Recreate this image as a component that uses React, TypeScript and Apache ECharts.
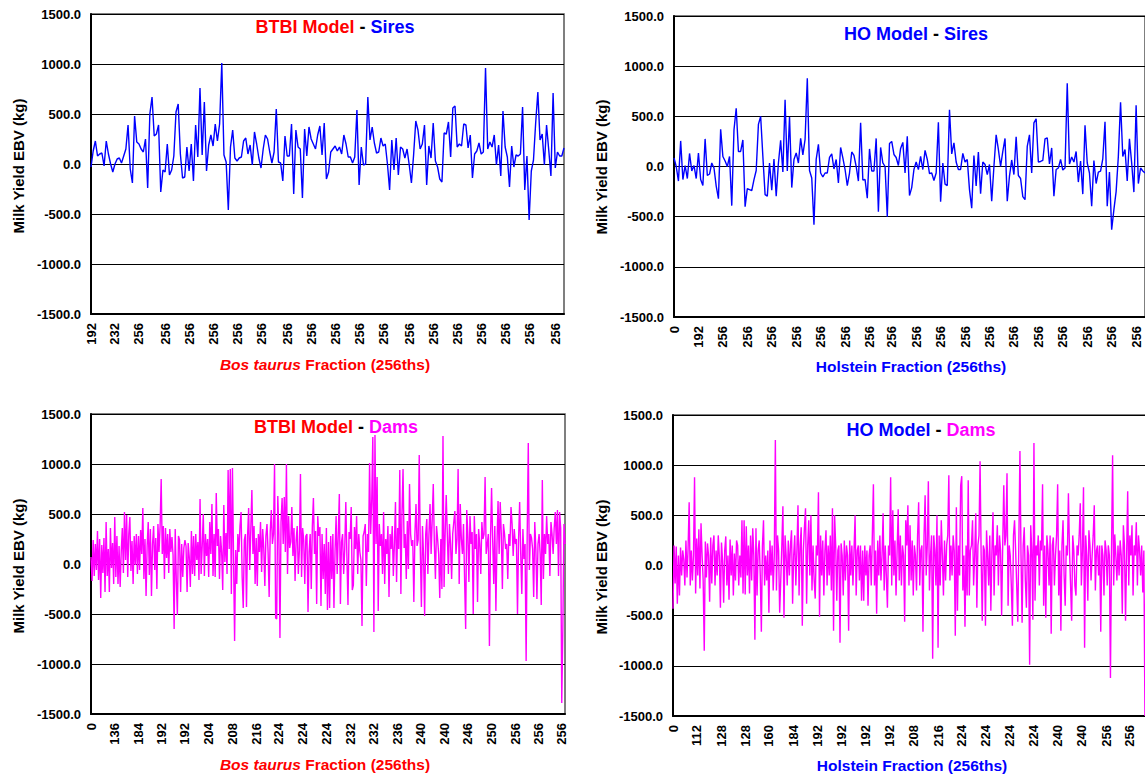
import React, { useEffect, useRef } from "react";
import * as echarts from "echarts";

// ---------------- DATA ----------------
// BTBI model - sires (Milk yield EBV, kg), in order of Bos taurus fraction
const BTBI_SIRES = [
  -30, 130, 230, 80, 100, 110, -20, 230, 100, 0,
  -80, 0, 50, 60, 10, 80, 150, 390, -50, -190,
  480, 220, 200, 150, 120, 250, -240, 500, 670, 280,
  300, 390, -280, -60, -80, 200, -110, -60, 80, 520,
  600, 100, -140, -130, 170, -70, 200, -170, 390, 70,
  760, 90, 620, -70, 190, 290, 180, 400, 230, 400,
  1010, 90, 20, -460, 170, 340, 60, 30, 60, 70,
  230, 260, 100, 190, -10, 320, 200, 60, -40, 150,
  290, 250, 120, 10, 120, 550, 20, 10, -170, 280,
  80, 80, 400, -300, 340, 170, 150, -340, 350, 80,
  370, 250, 200, 150, 290, 380, 90, 410, -150, -80,
  120, 150, 180, 130, 170, 100, 290, 200, 70, 70,
  10, 70, 540, -210, 170, -10, 0, 670, 240, 370,
  210, 110, 120, 260, 180, 200, 0, -260, 240, -60,
  260, -110, 170, 150, 60, 150, -10, -190, 90, 430,
  340, 150, 200, 390, -210, 180, 60, 410, 30, -30,
  -150, -180, 310, 300, 420, 70, 560, 580, 170, 200,
  180, 400, 390, 160, 290, -140, 100, 130, 210, 100,
  120, 960, 150, 220, 170, 290, -10, 190, -120, 530,
  170, 70, -230, 180, -30, 90, 80, 100, 570, -260,
  80, -560, -70, 40, 410, 720, 240, 300, -10, 390,
  140, -120, 710, -40, 120, 80, 80, 160,
];

// HO model - sires
const HO_SIRES = [
  85, 0, -145, 255, -130, 10, -120, 130, -45, 10,
  -120, 135, -130, -190, 275, -90, -75, 35, -15, -195,
  -320, 370, 100, 55, 0, 100, -390, 365, 580, 150,
  150, 265, -400, -220, -230, -240, -130, -40, 420, 500,
  100, -280, -295, 35, -235, 75, -295, 35, 260, -55,
  665, -45, 495, -210, 70, 135, 35, 280, 115, 270,
  880, -40, -115, -580, 70, 220, -65, -105, -65, -65,
  90, 125, -25, 70, -165, 190, 85, -30, -190, -65,
  145, 110, 0, -145, 435, -135, -130, -315, 175, -45,
  -45, 280, -450, 190, 35, 0, -500, 230, 250, 120,
  90, 10, 180, 240, -65, 300, -290, -210, -30, 45,
  -30, 100, -30, 160, 70, -70, -65, -140, -65, 440,
  -350, 35, -175, -190, 565, 125, 235, 45, -30, -30,
  130, 45, 70, -230, -415, 110, -195, 145, -270, 45,
  20, -80, 20, -345, 0, 315, 170, 0, 150, 280,
  -345, -95, 65, -80, 295, -90, -120, -300, -330, 200,
  315, -65, 435, 475, 45, 50, 60, 275, 285, 25,
  185, -295, -30, -15, 70, -35, -15, 830, 25, 95,
  45, 150, -155, 55, -275, 410, 35, -65, -395, 60,
  -170, -55, -45, 75, 445, -395, -55, -630, -430, -250,
  100, 640, 100, 170, -145, 275, 35, -255, 610, -170,
  -15, -45, -65,
];

// BTBI model - dams
const BTBI_DAMS = [
  70, -170, 240, -120, 200, -60, 330, -160, 250, -340, 190, -90, 260, -280, 420, -120, 150, -280, 360, -40, 210, -200,
  470, -130, 280, -200, 180, -230, 120, 360, -90, 520, 40, 490, -130, 300, 470, -70, 230, -200, 280, -10, 300, -100,
  280, -60, 340, 100, 560, -150, 250, -320, 180, 420, -110, 350, -320, 200, 380, -60, 260, -250, 400, 120, 380, 850,
  100, 380, -150, 360, 60, 300, -90, 350, 120, 270, 90, -650, 350, -160, -510, 280, 240, -280, 200, -130, 160, 240,
  180, -280, 210, 70, -230, 330, -100, 280, -120, 300, 40, 220, -160, 650, -100, 180, 500, -120, 300, 80, 250, -130,
  420, 100, 600, -120, 300, -130, 710, 180, 350, -150, 280, 120, -260, 590, 20, 310, -100, 940, 150, 950, -300, 960,
  80, -770, 140, -200, 300, 120, 380, 520, -130, -440, 240, 300, -430, 280, 560, -60, 350, 740, 100, 380, -200, 260,
  -220, 300, 120, 420, -80, 350, 160, -220, 280, 400, 120, -330, 320, 540, 200, 300, 1000, -540, -550, 680, 300, -740,
  420, 660, 200, 670, 120, 1000, -100, 480, 160, 220, 570, 80, 360, -170, 240, 380, -100, 140, 900, -130, 360, 240,
  -200, 280, 300, -480, 120, 300, -250, 380, 660, 100, 330, -400, 480, 280, 370, -420, 300, -150, 200, -300, 360, -460,
  220, -440, 280, -150, 300, -440, 120, 480, -100, 300, 700, -400, 220, 300, -100, 150, 620, 80, -410, 320, 250, 570,
  -260, -210, 370, 150, 480, -100, 300, 120, 40, -620, 280, 320, 400, -220, 300, 120, 1010, 300, 640, 1270, -680, 1290,
  200, 870, -470, 400, 180, 300, -100, 520, -200, 250, 100, 380, -330, 300, 150, 380, -120, 200, 620, -180, 360, 150,
  940, -300, 500, 950, 160, 300, -150, 430, -50, 800, 300, 180, 240, -380, 300, 600, 180, 240, 1090, 130, -430, 380,
  80, -520, 300, 450, -100, 300, 600, 100, 440, 800, 200, -150, 380, 250, 100, -340, 250, -250, 1280, -230, 300, 690,
  300, -100, 400, 200, -150, 300, 420, 530, 100, 250, 950, -200, 600, 250, 100, 400, -150, -650, 540, 300, -180, 480,
  200, 320, -500, 480, 150, 300, -380, 350, 200, -100, 420, 250, 300, 870, 100, 200, 300, -820, 250, 760, 250, -200,
  380, -470, 200, 630, 100, 620, 300, -250, 400, 300, 150, 200, -150, 300, 180, 570, 400, 80, 350, 200, 250, -500,
  250, 620, 100, -300, 350, 50, 200, -970, 300, 1210, -60, 300, 260, 150, -330, 420, 150, -350, 200, 300, 100, -410,
  840, -150, 300, 100, 480, 200, 300, -120, 420, 300, 100, 360, 520, 200, 540, -120, 520, 360, -1390, -650, 400, 200,
];

// HO model - dams
const HO_DAMS = [
  -430, 200, -180, 190, -380, 100, -300, 180, -100, 150, 60, -200, 250, -120, 170, 630, -200, 150, -150, 100, 880, -280,
  270, -100, 360, -230, 420, 100, -150, -850, 240, -120, 220, 100, -360, 280, -180, 200, 300, -200, 150, -100, 300, 90,
  -420, 230, 50, -370, 150, 290, -200, 100, -340, 260, -100, 200, -300, 120, -150, 250, 200, -200, 100, -120, 450, -280,
  450, -290, 390, -100, 200, -280, 300, -150, 370, 100, -740, 370, -300, 150, 250, -100, -660, 200, 450, -200, 100, -150,
  150, -470, 250, -100, 200, -250, 100, 1250, -250, 300, 150, -470, -150, 200, 590, -520, 300, 100, -200, 250, -100, 200,
  350, -380, 100, 300, -200, 150, 600, -300, 200, 380, -600, 150, 380, 570, -380, 200, 450, -100, 500, -250, 200, -150,
  -330, 200, 100, 730, -510, 300, -100, 250, -300, 150, 350, -200, 200, -100, 300, -250, 570, -650, 500, 200, -350, 150,
  200, -770, 220, 100, -300, 250, -150, 200, 100, -650, 250, -100, 200, -200, 150, 500, -300, 150, 200, -150, 200, -350,
  150, -350, 200, -100, 150, -400, 100, 200, -200, 300, 810, -200, 150, -480, 250, -100, 300, -150, 100, 520, -250, 200,
  -100, -420, 200, 100, 880, -200, 550, -100, 250, -300, 150, 560, -150, 300, -200, 200, 100, -560, 450, 200, 600, -200,
  400, -150, 250, -300, 200, 100, -250, 300, 630, -200, 150, 200, -660, 300, 700, -100, 200, 840, -250, 100, 300, -930,
  300, 150, -200, 500, -820, 300, -200, 450, 100, -300, 250, -150, 200, 300, 900, -150, 200, -100, 300, 150, -700, 580,
  -450, 200, -100, 800, 890, -250, 100, -610, 200, -300, 850, -300, 150, 200, 450, -200, 100, 520, -420, 200, 300, 1040,
  100, -550, 200, 150, -600, 350, 100, -200, 300, -450, 150, 530, -300, 200, 100, 400, -200, 300, 150, -500, 200, 800,
  200, 300, 920, -400, 200, 100, -200, -600, 300, 450, 150, -200, -560, 250, 1140, 100, -570, 200, 380, -150, -420, 200,
  100, -990, 400, 150, -540, 1220, -350, 200, 100, 300, -200, 250, 150, 810, -400, 200, -520, 300, 150, -200, 300, -680,
  200, 280, -200, 100, 300, 810, -300, 150, -650, 200, 450, -100, -400, 200, 100, 720, 150, -200, -550, 300, 150, -200,
  -300, 200, 100, 300, 620, -200, 150, 780, -820, 300, 100, -350, 350, 200, -150, 100, 300, 600, -250, 150, 200, -100,
  200, -660, 200, 100, -300, 250, 150, -200, 200, 100, -1120, 150, 1100, -200, 310, 100, -150, 200, -100, 250, 100, -480,
  400, 200, -550, 100, 740, -200, 300, 100, 400, -300, 200, 100, 430, -200, 300, 150, -100, 200, -270, 150, -1500, 250,
];

// Tick labels (fraction, 256ths) shown under each x axis
const BTBI_SIRE_TICKS = ["192", "232", "256", "256", "256", "256", "256", "256", "256", "256", "256", "256", "256", "256", "256", "256", "256", "256", "256", "256"];
const HO_SIRE_TICKS = ["0", "192", "256", "256", "256", "256", "256", "256", "256", "256", "256", "256", "256", "256", "256", "256", "256", "256", "256", "256"];
const BTBI_DAM_TICKS = ["0", "136", "184", "192", "192", "204", "208", "216", "224", "224", "224", "232", "232", "236", "240", "240", "246", "250", "256", "256", "256"];
const HO_DAM_TICKS = ["0", "112", "128", "128", "160", "184", "192", "192", "192", "192", "208", "216", "224", "224", "224", "224", "240", "240", "256", "256"];

const Y_MIN = -1500;
const Y_MAX = 1500;
const Y_STEP = 500;

// ---------------- LAYOUT ----------------
const FONT = '"Liberation Sans", Arial, Helvetica, sans-serif';
const RED = "#FF0000";
const BLUE = "#0000FF";
const MAGENTA = "#FF00FF";

type Panel = {
  data: number[];
  ticks: string[];
  color: string;
  lw: number;
  grid: { left: number; top: number; width: number; height: number };
  tickPx: number;
};

const PANELS: Panel[] = [
  { data: BTBI_SIRES, ticks: BTBI_SIRE_TICKS, color: BLUE, lw: 1.4, grid: { left: 91, top: 14, width: 473, height: 300 }, tickPx: 24.4 },
  { data: HO_SIRES, ticks: HO_SIRE_TICKS, color: BLUE, lw: 1.4, grid: { left: 674, top: 16, width: 471, height: 301 }, tickPx: 24.3 },
  { data: BTBI_DAMS, ticks: BTBI_DAM_TICKS, color: MAGENTA, lw: 1.4, grid: { left: 91, top: 414, width: 474, height: 300 }, tickPx: 23.55 },
  { data: HO_DAMS, ticks: HO_DAM_TICKS, color: MAGENTA, lw: 1.4, grid: { left: 673, top: 415, width: 473, height: 301 }, tickPx: 24.05 },
];

function buildAxis(p: Panel) {
  const n = p.data.length;
  const step = (p.tickPx * (n - 1)) / p.grid.width;
  const idx = p.ticks.map((_, j) => Math.round(j * step)).filter((i) => i < n);
  const cats: string[] = new Array(n);
  let j = 0;
  for (let i = 0; i < n; i++) {
    while (j + 1 < idx.length && idx[j + 1] <= i) j++;
    cats[i] = p.ticks[j];
  }
  const set = new Set(idx);
  return { cats, set };
}

const txt = (
  x: number,
  y: number,
  text: string,
  rich: Record<string, any>,
  fontSize: number,
  rotation = 0
) => ({
  type: "text",
  x,
  y,
  rotation,
  silent: true,
  style: {
    text,
    align: "center",
    verticalAlign: "middle",
    fontFamily: FONT,
    fontSize,
    fontWeight: "bold",
    fill: "#000",
    rich,
  },
});

const part = (fill: string, size: number, italic = false) => ({
  fill,
  fontFamily: FONT,
  fontSize: size,
  fontWeight: "bold",
  fontStyle: italic ? "italic" : "normal",
});

export default function App() {
  const ref = useRef<HTMLDivElement>(null);

  useEffect(() => {
    if (!ref.current) return;
    const chart = echarts.init(ref.current, undefined, { renderer: "svg" });

    const grids: any[] = [];
    const xAxes: any[] = [];
    const yAxes: any[] = [];
    const series: any[] = [];

    PANELS.forEach((p, k) => {
      const { cats, set } = buildAxis(p);
      grids.push({
        ...p.grid,
        show: true,
        borderColor: "#555",
        borderWidth: 1.5,
        backgroundColor: "#fff",
        containLabel: false,
        outerBoundsMode: "none",
      });
      xAxes.push({
        type: "category",
        gridIndex: k,
        data: cats.map((_, i) => String(i)),
        boundaryGap: false,
        axisLine: { show: true, onZero: false, lineStyle: { color: "#000", width: 2 } },
        axisTick: { show: false },
        splitLine: { show: false },
        axisLabel: {
          interval: (i: number) => set.has(i),
          formatter: (_v: string, i: number) => cats[i],
          rotate: 90,
          margin: 9,
          color: "#000",
          fontFamily: FONT,
          fontWeight: "bold",
          fontSize: 13,
          hideOverlap: false,
        },
      });
      yAxes.push({
        type: "value",
        gridIndex: k,
        min: Y_MIN,
        max: Y_MAX,
        interval: Y_STEP,
        axisLine: { show: true, lineStyle: { color: "#000", width: 2 } },
        axisTick: { show: false },
        splitLine: { show: true, lineStyle: { color: "#000", width: 1 } },
        axisLabel: {
          formatter: (v: number) => v.toFixed(1),
          margin: 10,
          color: "#000",
          fontFamily: FONT,
          fontWeight: "bold",
          fontSize: 13,
        },
      });
      series.push({
        type: "line",
        xAxisIndex: k,
        yAxisIndex: k,
        data: p.data,
        symbol: "none",
        showSymbol: false,
        lineStyle: { color: p.color, width: p.lw },
        itemStyle: { color: p.color },
        silent: true,
      });
    });

    const TS = 18;
    const AS = 15.5;
    const YS = 15;
    const graphic: any[] = [
      // panel titles
      txt(335, 27, "{r|BTBI Model} {k|-} {b|Sires}", { r: part(RED, TS), k: part("#000", TS), b: part(BLUE, TS) }, TS),
      txt(916, 34, "{b|HO Model} {k|-} {b|Sires}", { k: part("#000", TS), b: part(BLUE, TS) }, TS),
      txt(336, 427, "{r|BTBI Model} {k|-} {m|Dams}", { r: part(RED, TS), k: part("#000", TS), m: part(MAGENTA, TS) }, TS),
      txt(921, 430, "{b|HO Model} {k|-} {m|Dams}", { b: part(BLUE, TS), k: part("#000", TS), m: part(MAGENTA, TS) }, TS),
      // x-axis titles
      txt(325, 364, "{i|Bos taurus} {n|Fraction (256ths)}", { i: part(RED, AS, true), n: part(RED, AS) }, AS),
      txt(911, 366, "{n|Holstein Fraction (256ths)}", { n: part(BLUE, AS) }, AS),
      txt(325, 764, "{i|Bos taurus} {n|Fraction (256ths)}", { i: part(RED, AS, true), n: part(RED, AS) }, AS),
      txt(912, 765, "{n|Holstein Fraction (256ths)}", { n: part(BLUE, AS) }, AS),
      // y-axis titles
      txt(18, 166, "Milk Yield EBV (kg)", {}, YS, Math.PI / 2),
      txt(601, 167, "Milk Yield EBV (kg)", {}, YS, Math.PI / 2),
      txt(18, 566, "Milk Yield EBV (kg)", {}, YS, Math.PI / 2),
      txt(601, 567, "Milk Yield EBV (kg)", {}, YS, Math.PI / 2),
    ];

    chart.setOption({
      animation: false,
      backgroundColor: "#fff",
      grid: grids,
      xAxis: xAxes,
      yAxis: yAxes,
      series,
      graphic,
    });

    return () => {
      chart.dispose();
    };
  }, []);

  return (
    <div
      style={{
        position: "fixed",
        left: 0,
        top: 0,
        width: 1145,
        height: 775,
        overflow: "hidden",
        background: "#fff",
      }}
    >
      <div ref={ref} style={{ width: 1160, height: 775 }} />
    </div>
  );
}
